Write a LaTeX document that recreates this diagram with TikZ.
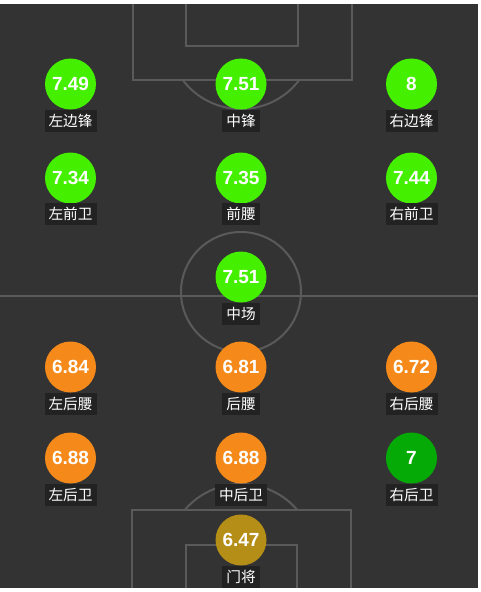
\documentclass[tikz,border=0pt]{standalone}
\usepackage{fontspec}
\setmainfont{Liberation Sans}
\newfontfamily\cjk{Noto Sans CJK SC}
\definecolor{pitchbg}{HTML}{333333}
\definecolor{linegray}{HTML}{5A5A5A}
\definecolor{labelbg}{HTML}{222222}
\definecolor{rgreen}{HTML}{44F000}
\definecolor{rorange}{HTML}{F58A1A}
\definecolor{rdgreen}{HTML}{06AA06}
\definecolor{rgold}{HTML}{B58E18}
\tikzset{
  pline/.style={draw=linegray, line width=1.5pt},
  player/.style={circle, minimum size=38.25pt, inner sep=0pt, text=white,
    font=\fontsize{14.25pt}{16pt}\selectfont\bfseries},
  plabel/.style={fill=labelbg, text=white, inner xsep=3pt, inner ysep=0pt,
    minimum height=16pt, font=\cjk\fontsize{11pt}{13pt}\selectfont}
}
\begin{document}
\begin{tikzpicture}[x=0.75pt, y=-0.75pt]
\useasboundingbox (0,0) rectangle (480,592);
\fill[white] (0,0) rectangle (480,592);
\fill[pitchbg] (0,4) rectangle (478,588);
% top penalty area
\draw[pline] (133,4) -- (133,80) -- (352,80) -- (352,4);
\draw[pline] (186,4) -- (186,46) -- (298,46) -- (298,4);
\begin{scope}
  \clip (100,80) rectangle (380,130);
  \draw[pline] (241,36) circle[radius=73];
\end{scope}
% halfway line and centre circle
\draw[pline] (0,296) -- (478,296);
\draw[pline] (241,292) circle[radius=60];
% bottom penalty area
\draw[pline] (132,588) -- (132,510) -- (351,510) -- (351,588);
\draw[pline] (186,588) -- (186,545) -- (297,545) -- (297,588);
\begin{scope}
  \clip (100,460) rectangle (380,510);
  \draw[pline] (241,558) circle[radius=74];
\end{scope}
% players
\node[player, fill=rgreen] (lw) at (70.5,84) {7.49};
\node[player, fill=rgreen] (cf) at (241,84) {7.51};
\node[player, fill=rgreen] (rw) at (411.5,84) {8};
\node[player, fill=rgreen] (lm) at (70.5,178) {7.34};
\node[player, fill=rgreen] (am) at (241,178) {7.35};
\node[player, fill=rgreen] (rm) at (411.5,178) {7.44};
\node[player, fill=rgreen] (cm) at (241,277) {7.51};
\node[player, fill=rorange] (ldm) at (70.5,367) {6.84};
\node[player, fill=rorange] (dm) at (241,367) {6.81};
\node[player, fill=rorange] (rdm) at (411.5,367) {6.72};
\node[player, fill=rorange] (lb) at (70.5,458) {6.88};
\node[player, fill=rorange] (cb) at (241,458) {6.88};
\node[player, fill=rdgreen] (rb) at (411.5,458) {7};
\node[player, fill=rgold] (gk) at (241,540) {6.47};
% labels
\node[plabel] (lwl) at (70.5,121) {左边锋};
\node[plabel] (cfl) at (241,121) {中锋};
\node[plabel] (rwl) at (411.5,121) {右边锋};
\node[plabel] (lml) at (70.5,214) {左前卫};
\node[plabel] (aml) at (241,214) {前腰};
\node[plabel] (rml) at (411.5,214) {右前卫};
\node[plabel] (cml) at (241,314) {中场};
\node[plabel] (ldml) at (70.5,404) {左后腰};
\node[plabel] (dml) at (241,404) {后腰};
\node[plabel] (rdml) at (411.5,404) {右后腰};
\node[plabel] (lbl) at (70.5,495) {左后卫};
\node[plabel] (cbl) at (241,495) {中后卫};
\node[plabel] (rbl) at (411.5,495) {右后卫};
\node[plabel] (gkl) at (241,577) {门将};
\end{tikzpicture}
\end{document}
